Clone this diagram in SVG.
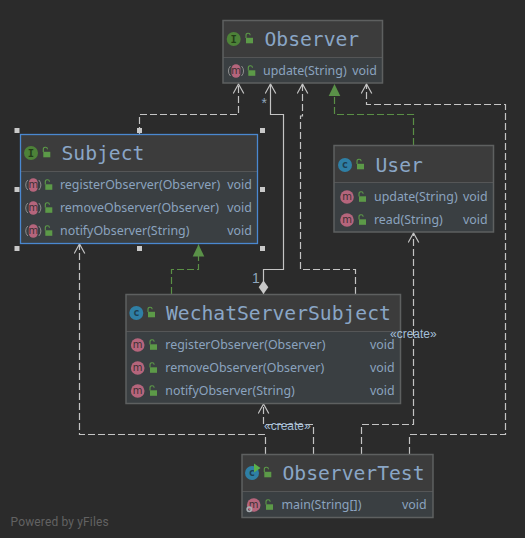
<svg xmlns="http://www.w3.org/2000/svg" width="525" height="538" viewBox="0 0 525 538">
<style>
.bg{fill:#2b2b2b}
.hd{fill:#3c3c3c}
.bd{fill:#3a3f42}
.fr{fill:none;stroke:#5e6060;stroke-width:1.5}
.sel{fill:none;stroke:#4a88d0;stroke-width:1.3}
.dv{stroke:#555657;stroke-width:1}
.t{font-family:"DejaVu Sans Mono",monospace;font-size:19.7px;fill:#8aa6c6;letter-spacing:-.02px}
.m{font-family:"Noto Sans","Open Sans",sans-serif;font-size:12.4px;fill:#8ba3bf}
.c{fill:none;stroke:#c4c4c4;stroke-width:1.2}
.d{stroke-dasharray:7 3}
.g{fill:none;stroke:#5a8f45;stroke-width:1.2;stroke-dasharray:7 3}
.lb{font-family:"Liberation Sans",sans-serif;font-size:12px;fill:#a3bfd8}
.lbn{font-family:"Liberation Sans",sans-serif;font-size:14px;fill:#8fa6bd}
.h{fill:#c9c9c9}
.il{font-family:"DejaVu Sans Mono",monospace;font-size:10.5px;font-weight:bold;text-anchor:middle}
.im{font-family:"DejaVu Sans",sans-serif;font-size:10px;text-anchor:middle;fill:#3c3033}
</style>
<defs>
<marker id="open" markerUnits="userSpaceOnUse" markerWidth="14" markerHeight="14" refX="11" refY="6" orient="auto"><path d="M1.5 .7L11 6L1.500 11.300" fill="none" stroke="#c4c4c4" stroke-width="1.2"/></marker>
<marker id="tri" markerUnits="userSpaceOnUse" markerWidth="14" markerHeight="14" refX="12" refY="6.500" orient="auto"><path d="M0 .7L12 6.500L0 12.300Z" fill="#5a9148"/></marker>
<marker id="dia" markerUnits="userSpaceOnUse" markerWidth="16" markerHeight="12" refX=".5" refY="6" orient="auto"><path d="M.5 6L7.200 1.200L14 6L7.200 10.800Z" fill="#c8c8c8"/></marker>
<g id="lock"><path d="M-3-1V-3.400A2.100 2.100 0 0 1 1.200-3.800" fill="none" stroke="#5c9a48" stroke-width="1.100"/><rect x="-3" y="-1.200" width="7" height="5.500" fill="#5c9a48"/></g>
<g id="mi"><circle r="6.800" fill="#b5657c"/><text class="im" y="3.400">m</text></g>
<g id="ma"><rect x="-4.500" y="-6.800" width="9" height="13.600" rx="4.500" fill="#b5657c"/><path d="M-5.500-5A7 7 0 0 0-5.500 5M5.500-5A7 7 0 0 1 5.500 5" fill="none" stroke="#8c8c8c" stroke-width="1"/><text class="im" y="3.400">m</text></g>
<g id="ic"><circle r="7" fill="#2f7fa5"/><text class="il" y="3.200" fill="#1e3f52">c</text></g>
<g id="ii"><circle r="7" fill="#4d8238"/><text class="il" y="3.500" fill="#233c18">I</text></g>
</defs>
<rect class="bg" width="525" height="538"/>
<g id="connectors">
<path class="c d" marker-end="url(#open)" d="M139.500 134V114.500H238.500V84"/>
<path class="c" marker-start="url(#dia)" marker-end="url(#open)" d="M263.500 294V269.500H283.500V114.500H270.500V84"/>
<path class="c d" marker-end="url(#open)" d="M355.500 294V269.500H300.500V116H302.500V84"/>
<path class="g" marker-end="url(#tri)" d="M413.500 145V114.500H334.500V84"/>
<path class="c d" marker-end="url(#open)" d="M409.500 454V434.500H505.500V104.500H366.500V84"/>
<path class="c d" marker-end="url(#open)" d="M361.500 454V424.500H413.500V233"/>
<path class="c d" marker-end="url(#open)" d="M313.500 454V424.500H263.500V404"/>
<path class="c d" marker-end="url(#open)" d="M265.500 454V434.500H79.500V244"/>
<path class="g" marker-end="url(#tri)" d="M171.500 294V269.500H198.500V244.500"/>
</g>
<g id="observer">
<rect class="hd" x="223" y="20.500" width="159.500" height="37"/><rect class="bd" x="223" y="57.500" width="159.500" height="25.500"/>
<path class="dv" d="M223 57.500H382.500"/><rect class="fr" x="223" y="20.500" width="159.500" height="62.500"/>
<use href="#ii" x="233.700" y="39"/><use href="#lock" x="249" y="39"/>
<text class="t" x="264.500" y="46">Observer</text>
<use href="#ma" x="236" y="71"/><use href="#lock" x="251.300" y="71.500"/>
<text class="m" x="263" y="75">update(String)</text><text class="m" x="352.300" y="75">void</text>
</g>
<g id="subject">
<rect class="hd" x="20.500" y="134.500" width="237" height="37"/><rect class="bd" x="20.500" y="171.500" width="237" height="72"/>
<path class="dv" d="M20.500 171.500H257.500"/><rect class="sel" x="20.500" y="134.500" width="237" height="109"/>
<use href="#ii" x="31" y="153"/><use href="#lock" x="46.300" y="153"/>
<text class="t" x="61.500" y="160">Subject</text>
<use href="#ma" x="33.300" y="185"/><use href="#lock" x="48.300" y="185.500"/>
<text class="m" x="60" y="189">registerObserver(Observer)</text><text class="m" x="227.300" y="189">void</text>
<use href="#ma" x="33.300" y="208"/><use href="#lock" x="48.300" y="208.500"/>
<text class="m" x="60" y="212">removeObserver(Observer)</text><text class="m" x="227.300" y="212">void</text>
<use href="#ma" x="33.300" y="231"/><use href="#lock" x="48.300" y="231.500"/>
<text class="m" x="60" y="235">notifyObserver(String)</text><text class="m" x="227.300" y="235">void</text>
<rect class="h" x="14.500" y="128" width="5" height="5"/><rect class="h" x="137" y="128" width="5" height="5"/><rect class="h" x="260" y="128" width="5" height="5"/>
<rect class="h" x="14.500" y="187" width="5" height="5"/><rect class="h" x="260" y="187" width="5" height="5"/>
<rect class="h" x="14.500" y="246" width="5" height="5"/><rect class="h" x="137" y="246" width="5" height="5"/><rect class="h" x="260" y="246" width="5" height="5"/>
</g>
<g id="user">
<rect class="hd" x="334" y="145.500" width="159.500" height="37"/><rect class="bd" x="334" y="182.500" width="159.500" height="49.500"/>
<path class="dv" d="M334 182.500H493.500"/><rect class="fr" x="334" y="145.500" width="159.500" height="86.500"/>
<use href="#ic" x="345" y="165"/><use href="#lock" x="360" y="165"/>
<text class="t" x="375.500" y="172">User</text>
<use href="#mi" x="347" y="197"/><use href="#lock" x="362" y="197.500"/>
<text class="m" x="374" y="201">update(String)</text><text class="m" x="463" y="201">void</text>
<use href="#mi" x="347" y="220"/><use href="#lock" x="362" y="220.500"/>
<text class="m" x="374" y="224">read(String)</text><text class="m" x="463" y="224">void</text>
</g>
<g id="wechat">
<rect class="hd" x="126" y="294.500" width="274.500" height="37"/><rect class="bd" x="126" y="331.500" width="274.500" height="72"/>
<path class="dv" d="M126 331.500H400.500"/><rect class="fr" x="126" y="294.500" width="274.500" height="109"/>
<use href="#ic" x="136.300" y="313"/><use href="#lock" x="151" y="313"/>
<text class="t" x="166" y="320">WechatServerSubject</text>
<use href="#mi" x="137.700" y="345"/><use href="#lock" x="153" y="345.500"/>
<text class="m" x="165.300" y="349">registerObserver(Observer)</text><text class="m" x="370" y="349">void</text>
<use href="#mi" x="137.700" y="368"/><use href="#lock" x="153" y="368.500"/>
<text class="m" x="165.300" y="372">removeObserver(Observer)</text><text class="m" x="370" y="372">void</text>
<use href="#mi" x="137.700" y="391"/><use href="#lock" x="153" y="391.500"/>
<text class="m" x="165.300" y="395">notifyObserver(String)</text><text class="m" x="370" y="395">void</text>
</g>
<g id="observertest">
<rect class="hd" x="242" y="454.500" width="191" height="37"/><rect class="bd" x="242" y="491.500" width="191" height="26"/>
<path class="dv" d="M242 491.500H433"/><rect class="fr" x="242" y="454.500" width="191" height="63"/>
<use href="#ic" x="252" y="473"/><path d="M254 463.500L260.500 468L254 472.500Z" fill="#5ab04a"/><use href="#lock" x="267.300" y="473"/>
<text class="t" x="282.500" y="480">ObserverTest</text>
<use href="#mi" x="253.700" y="505"/><circle cx="249.300" cy="509.300" r="2.200" fill="none" stroke="#a8adb2" stroke-width="1.600"/><use href="#lock" x="269" y="505.500"/>
<text class="m" x="281.500" y="509">main(String[])</text><text class="m" x="402" y="509">void</text>
</g>
<g id="labels">
<text class="lbn" x="261.500" y="108">*</text>
<text class="lbn" x="252" y="283">1</text>
<text class="lb" x="390" y="338">«create»</text>
<text class="lb" x="264" y="430">«create»</text>
<text x="10.500" y="525.500" font-family="Roboto,sans-serif" font-size="12px" fill="#626262" letter-spacing=".15">Powered by yFiles</text>
</g>
</svg>
